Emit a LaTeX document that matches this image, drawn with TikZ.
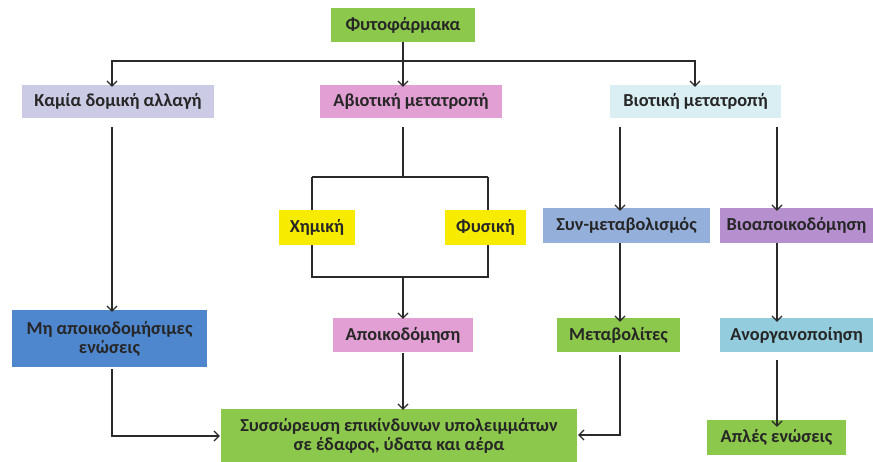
\documentclass[tikz,border=0pt]{standalone}
\usepackage{fontspec}
\setmainfont{Carlito}
\usetikzlibrary{arrows.meta}
\definecolor{cgreen}{HTML}{8CC84B}
\definecolor{clav}{HTML}{CCCBE6}
\definecolor{cpink}{HTML}{E19FD3}
\definecolor{ccyan}{HTML}{DAEFF3}
\definecolor{cyel}{HTML}{F7EC00}
\definecolor{cblue}{HTML}{4F87CF}
\definecolor{csteel}{HTML}{94B0DA}
\definecolor{cpurp}{HTML}{B68FCE}
\definecolor{clblue}{HTML}{92CCDD}
\definecolor{cline}{HTML}{2A2A2A}
\tikzset{
  box/.style={draw=none, inner sep=2pt, align=center, font=\bfseries\fontsize{18.3}{19}\selectfont, text=black!85},
  conn/.style={draw=cline, line width=1.3pt},
  arr/.style={conn, -{Straight Barb[length=5pt,width=10pt,line width=1.2pt]}},
}
\begin{document}
\begin{tikzpicture}[x=1pt,y=-1pt]
\useasboundingbox (0,0) rectangle (873,462);
% nodes
\node[box, fill=cgreen, minimum width=144pt, minimum height=34pt] (fyto) at (403,25) {Φυτοφάρμακα};
\node[box, fill=clav, minimum width=192pt, minimum height=33pt] (kamia) at (118,101.5) {Καμία δομική αλλαγή};
\node[box, fill=cpink, minimum width=182pt, minimum height=33pt] (abio) at (411,101.5) {Αβιοτική μετατροπή};
\node[box, fill=ccyan, minimum width=171pt, minimum height=33pt] (bio) at (695.5,101.5) {Βιοτική μετατροπή};
\node[box, fill=cyel, minimum width=76pt, minimum height=35pt] (xim) at (317,227.5) {Χημική};
\node[box, fill=cyel, minimum width=81pt, minimum height=35pt] (fys) at (485.5,227.5) {Φυσική};
\node[box, fill=csteel, minimum width=167pt, minimum height=35pt] (syn) at (626.5,225.5) {Συν-μεταβολισμός};
\node[box, fill=cpurp, minimum width=153pt, minimum height=35pt] (bioa) at (796.5,225.5) {Βιοαποικοδόμηση};
\node[box, fill=cblue, minimum width=195pt, minimum height=57pt] (mi) at (109.5,338.5) {Μη αποικοδομήσιμες\\ενώσεις};
\node[box, fill=cpink, minimum width=140pt, minimum height=34pt] (apoik) at (403,335) {Αποικοδόμηση};
\node[box, fill=cgreen, minimum width=123pt, minimum height=34pt] (metab) at (618.5,335) {Μεταβολίτες};
\node[box, fill=clblue, minimum width=153pt, minimum height=34pt] (anorg) at (796.5,335) {Ανοργανοποίηση};
\node[box, fill=cgreen, minimum width=356pt, minimum height=54pt] (syss) at (399,436) {Συσσώρευση επικίνδυνων υπολειμμάτων\\σε έδαφος, ύδατα και αέρα};
\node[box, fill=cgreen, minimum width=139pt, minimum height=35pt] (apl) at (776.5,437.5) {Απλές ενώσεις};
% coordinates
\coordinate (hL) at (112,61);
\coordinate (hR) at (695,61);
\coordinate (a1) at (403,177);
\coordinate (a2) at (403,277);
% connectors
\draw[arr] (fyto.south) -- ([yshift=-2pt]abio.north -| fyto);
\draw[arr] (fyto.south |- hL) -- (hL) -- ([yshift=-2pt]kamia.north -| hL);
\draw[arr] (fyto.south |- hR) -- (hR) -- ([yshift=-2pt]bio.north -| hR);
\draw[conn] ([yshift=-9pt]abio.south -| a1) -- (a1);
\draw[conn] (a1 -| 312,0) -- (a1 -| 488,0);
\draw[conn] (a1 -| 312,0) -- (xim.north -| 312,0);
\draw[conn] (a1 -| 488,0) -- (fys.north -| 488,0);
\draw[conn] (xim.south -| 312,0) -- (a2 -| 312,0) -- (a2 -| 488,0) -- (fys.south -| 488,0);
\draw[arr] (a2) -- ([yshift=-1pt]apoik.north);
\draw[arr] ([yshift=-1pt]apoik.south) -- ([yshift=-1pt]syss.north -| apoik);
\draw[arr] ([yshift=-9pt]kamia.south -| 112,0) -- ([yshift=-2pt]mi.north -| 112,0);
\draw[arr] ([yshift=-2pt]mi.south -| 112,0) |- ([xshift=-1pt]syss.west |- 0,436);
\draw[arr] ([yshift=-9pt]bio.south -| 620,0) -- ([yshift=-3pt]syn.north -| 620,0);
\draw[arr] ([yshift=-9pt]bio.south -| 777,0) -- ([yshift=-3pt]bioa.north -| 777,0);
\draw[arr] (syn.south -| 620,0) -- ([yshift=-4pt]metab.north -| 620,0);
\draw[arr] ([yshift=-3pt]metab.south -| 620,0) |- ([xshift=1pt]syss.east |- 0,435);
\draw[arr] (bioa.south -| 777,0) -- ([yshift=-4pt]anorg.north -| 777,0);
\draw[arr] ([yshift=-8pt]anorg.south -| 777,0) -- ([yshift=-7pt]apl.north -| 777,0);
\end{tikzpicture}
\end{document}
